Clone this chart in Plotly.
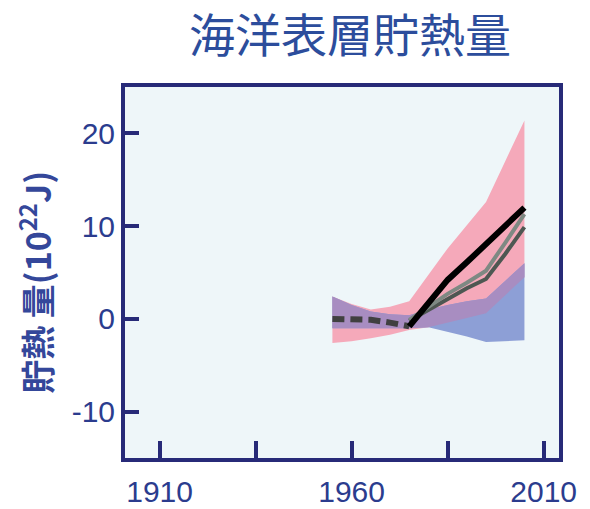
import numpy as np
import plotly.graph_objects as go

# Years shared by all range bands
band_years = [1955, 1960, 1965, 1970, 1975, 1980, 1985, 1990, 1995, 2000, 2005]

# Model range (pink) and observational range (blue), 10^22 J
model_upper = [2.4, 1.6, 1.0, 1.3, 1.9, 4.7, 7.6, 10.1, 12.6, 17.0, 21.4]
model_lower = [-2.6, -2.4, -2.1, -1.7, -1.2, -0.9, -0.4, 0.1, 0.6, 2.5, 4.5]
obs_upper = [2.4, 1.5, 0.8, 0.5, 0.4, 1.0, 1.5, 1.9, 2.2, 4.1, 6.0]
obs_lower = [-1.0, -1.0, -1.0, -1.0, -1.0, -0.9, -1.4, -1.9, -2.5, -2.4, -2.3]

# Early reconstruction (dashed)
early_years = [1955, 1960, 1965, 1970, 1975]
early_values = [0.0, -0.1, -0.1, -0.4, -0.8]

# Observed series
obs_years = [1975, 1980, 1985, 1990, 1995, 2000, 2005]
obs_black = [-0.8, 1.8, 4.2, 6.1, 8.1, 10.0, 12.0]
obs_gray_light = [-0.1, 1.3, 2.7, 3.9, 5.2, 8.2, 11.3]
obs_gray_dark = [-0.2, 1.0, 2.2, 3.3, 4.3, 7.0, 9.9]

x_tick_vals = [1910, 1960, 2010]
x_tick_text = ["1910", "1960", "2010"]
x_minor_ticks = [1935, 1985]
y_tick_vals = [-10, 0, 10, 20]
y_tick_text = ["-10", "0", "10", "20"]

NAVY = "#272a78"
TEXT_BLUE = "#2b3c8e"
PINK = "#f5a9ba"
BLUE = "#8d9fd6"
PURPLE = "#a88dc1"
BG = "#eef6f9"

overlap_upper = np.minimum(model_upper, obs_upper)
overlap_lower = np.maximum(model_lower, obs_lower)


def band(xs, upper, lower, color):
    return go.Scatter(
        x=list(xs) + list(xs)[::-1],
        y=list(upper) + list(lower)[::-1],
        fill="toself",
        fillcolor=color,
        line=dict(width=0),
        mode="lines",
        hoverinfo="skip",
        showlegend=False,
    )


fig = go.Figure()
fig.add_trace(band(band_years, model_upper, model_lower, PINK))
fig.add_trace(band(band_years, obs_upper, obs_lower, BLUE))
fig.add_trace(band(band_years, overlap_upper, overlap_lower, PURPLE))

fig.add_trace(go.Scatter(x=early_years, y=early_values, mode="lines",
                         line=dict(color="#404040", width=6, dash="12px,6px"),
                         showlegend=False))
fig.add_trace(go.Scatter(x=obs_years, y=obs_gray_dark, mode="lines",
                         line=dict(color="#4e5752", width=4), showlegend=False))
fig.add_trace(go.Scatter(x=obs_years, y=obs_gray_light, mode="lines",
                         line=dict(color="#7e8983", width=4), showlegend=False))
fig.add_trace(go.Scatter(x=obs_years, y=obs_black, mode="lines",
                         line=dict(color="#000000", width=6), showlegend=False))

tick_font = dict(family="Liberation Sans, Arial, sans-serif", size=30, color=TEXT_BLUE)

fig.update_xaxes(
    range=[1901, 2014], tickvals=x_tick_vals, ticktext=x_tick_text,
    ticks="inside", ticklen=17, tickwidth=4, tickcolor=NAVY,
    minor=dict(tickvals=x_minor_ticks, ticks="inside", ticklen=17,
               tickwidth=4, tickcolor=NAVY, showgrid=False),
    showline=True, linewidth=4, linecolor=NAVY, mirror=True,
    showgrid=False, zeroline=False, tickfont=tick_font, automargin=False,
    ticklabelstandoff=4,
)
fig.update_yaxes(
    range=[-15, 25], tickvals=y_tick_vals, ticktext=y_tick_text,
    ticks="inside", ticklen=14, tickwidth=4, tickcolor=NAVY,
    showline=True, linewidth=4, linecolor=NAVY, mirror=True,
    showgrid=False, zeroline=False, tickfont=tick_font, automargin=False,
)

fig.update_layout(
    width=590, height=509,
    margin=dict(l=125, r=31, t=87, b=51),
    paper_bgcolor="white", plot_bgcolor=BG,
    annotations=[
        dict(text="海洋表層貯熱量", xref="paper", yref="paper",
             x=0.518, y=1.148, xanchor="center", yanchor="middle",
             showarrow=False,
             font=dict(family="Noto Sans CJK JP", size=46, color="#2c4d9c")),
        dict(text="<b>貯熱 量(10<sup>22</sup>J)</b>", xref="paper", yref="paper",
             x=-0.208, y=0.474, xanchor="center", yanchor="middle",
             textangle=-90, showarrow=False,
             font=dict(family="Noto Sans CJK JP", size=34, color="#34479a")),
    ],
)

fig.write_html("out.html")
